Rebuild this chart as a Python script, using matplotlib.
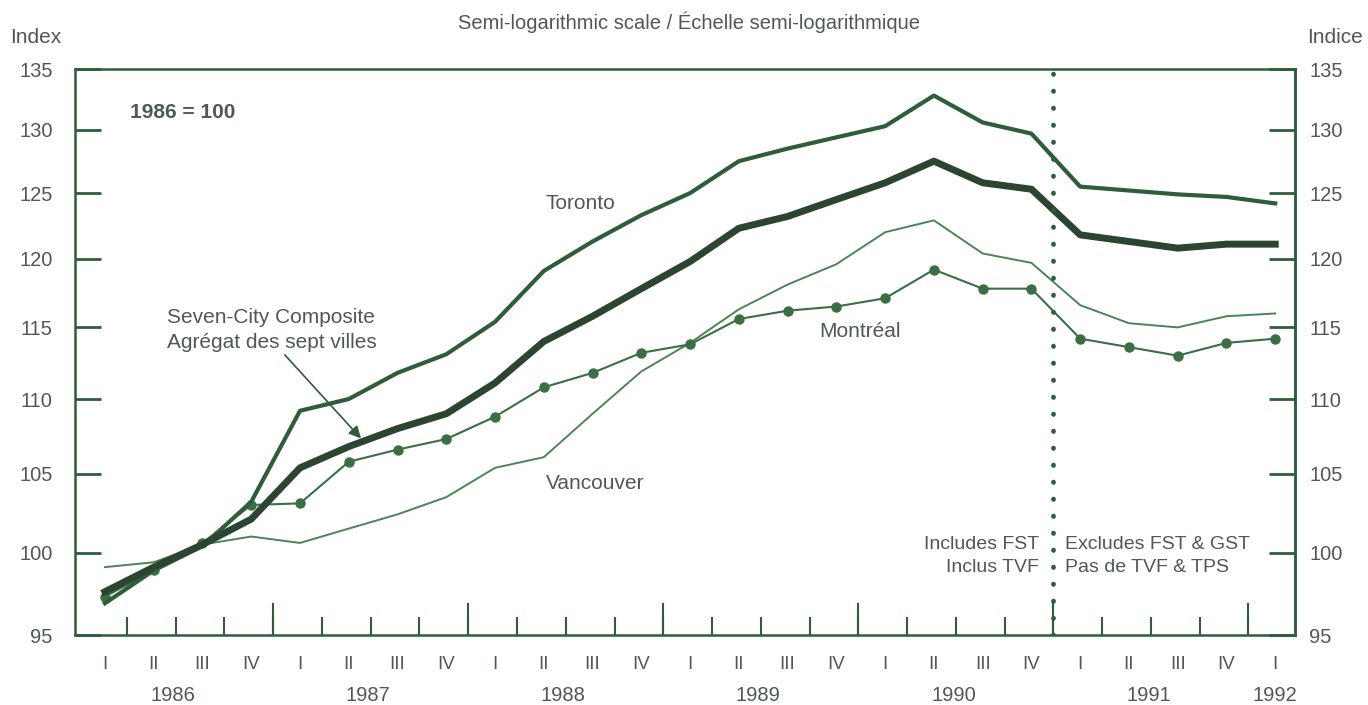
import numpy as np
import matplotlib
matplotlib.use("Agg")
import matplotlib.pyplot as plt
from matplotlib.ticker import NullLocator, FixedLocator, FixedFormatter
import matplotlib.transforms as mtransforms

plt.rcParams['font.family'] = ['Liberation Sans', 'DejaVu Sans']

# quarterly data, 1986 Q1 .. 1992 Q1 (1986 = 100)
quarters = ['I', 'II', 'III', 'IV'] * 6 + ['I']
years = ['1986', '1987', '1988', '1989', '1990', '1991', '1992']

toronto = [96.9, 98.9, 100.4, 103.2, 109.2, 110.0, 111.8, 113.1, 115.4, 119.1,
           121.3, 123.3, 125.0, 127.5, 128.5, 129.4, 130.3, 132.8, 130.6, 129.7,
           125.5, 125.2, 124.9, 124.7, 124.2]
composite = [97.6, 99.1, 100.5, 102.1, 105.4, 106.8, 108.0, 109.0, 111.1, 114.0,
             115.8, 117.8, 119.8, 122.3, 123.2, 124.5, 125.8, 127.5, 125.8, 125.3,
             121.8, 121.3, 120.8, 121.1, 121.1]
vancouver = [99.1, 99.4, 100.5, 101.0, 100.6, 101.5, 102.4, 103.5, 105.4, 106.1,
             109.0, 111.9, 113.9, 116.3, 118.1, 119.6, 122.0, 122.9, 120.4, 119.7,
             116.6, 115.3, 115.0, 115.8, 116.0]
montreal = [97.3, 98.9, 100.6, 103.0, 103.1, 105.8, 106.6, 107.3, 108.8, 110.8,
            111.8, 113.2, 113.8, 115.6, 116.2, 116.5, 117.1, 119.2, 117.8, 117.8,
            114.2, 113.6, 113.0, 113.9, 114.2]
yt = [95, 100, 105, 110, 115, 120, 125, 130, 135]

x = np.arange(len(quarters))
green = '#2f5c3a'
txt = '#4d5a4f'

fig = plt.figure(figsize=(13.68, 7.05), dpi=100)
ax = fig.add_axes([0.0548, 0.099, 0.892, 0.803])

ax.plot(x, vancouver, color='#4b8556', lw=1.4)
ax.plot(x, montreal, color='#3b6e45', lw=1.5, marker='o', ms=6.5)
ax.plot(x, toronto, color=green, lw=3.0)
ax.plot(x, composite, color='#2c4530', lw=5.0)

ax.set_yscale('log')
ax.set_ylim(95, 135)
ax.set_xlim(-0.615, 24.41)
ax.yaxis.set_major_locator(FixedLocator(yt))
ax.yaxis.set_major_formatter(FixedFormatter([str(v) for v in yt]))
ax.yaxis.set_minor_locator(NullLocator())
ax.tick_params(axis='y', direction='in', length=19, width=2, color=green,
               labelsize=14.5, labelcolor=txt, pad=16, right=False)

# right-hand scale
sec = ax.secondary_yaxis('right')
sec.set_yscale('log')
sec.yaxis.set_major_locator(FixedLocator(yt))
sec.yaxis.set_major_formatter(FixedFormatter([str(v) for v in yt]))
sec.yaxis.set_minor_locator(NullLocator())
sec.tick_params(axis='y', direction='in', length=19, width=2, color=green,
                labelsize=14.5, labelcolor=txt, pad=10)
sec.spines['right'].set_color(green)
sec.spines['right'].set_linewidth(1.8)

# quarter labels, small ticks between quarters
ax.set_xticks(x)
ax.set_xticklabels(quarters)
ax.set_xticks(x[:-1] + 0.45, minor=True)
ax.tick_params(axis='x', which='major', length=0, pad=15, labelsize=13.5, labelcolor=txt)
ax.tick_params(axis='x', which='minor', direction='in', length=13, width=1.5, color=green)

# longer ticks at year boundaries
trans = mtransforms.blended_transform_factory(ax.transData, ax.transAxes)
ax.vlines(x[3:-1:4] + 0.45, 0, 0.057, transform=trans, color=green, lw=1.5)
for k, yr in enumerate(years):
    xp = 24 if yr == '1992' else 4 * k + 1.4
    ax.text(xp, -0.106, yr, transform=trans, ha='center', va='center',
            fontsize=14.5, color=txt)

for s in ax.spines.values():
    s.set_color(green)
    s.set_linewidth(1.8)

# tax regime divider
ax.axvline(19.45, color=green, lw=3.4, ls=(0, (0.1, 3.5)), dash_capstyle='round')

ax.text(0.51, 131.4, '1986 = 100', fontsize=15, fontweight='bold', color=txt, va='center')
ax.text(9.74, 124.2, 'Toronto', fontsize=15, color=txt, ha='center', va='center')
ax.text(15.49, 114.7, 'Montréal', fontsize=15, color=txt, ha='center', va='center')
ax.text(10.05, 104.4, 'Vancouver', fontsize=15, color=txt, ha='center', va='center')
ax.text(1.27, 115.7, 'Seven-City Composite', fontsize=15, color=txt, va='center')
ax.text(1.27, 113.9, 'Agrégat des sept villes', fontsize=15, color=txt, va='center')
ax.annotate('', xy=(5.29, 107.2), xytext=(3.65, 113.2),
            arrowprops=dict(arrowstyle='-|>', color=green, lw=1.2, mutation_scale=18))
ax.text(19.15, 100.5, 'Includes FST', fontsize=14, color=txt, ha='right', va='center')
ax.text(19.15, 99.1, 'Inclus TVF', fontsize=14, color=txt, ha='right', va='center')
ax.text(19.68, 100.5, 'Excludes FST & GST', fontsize=14, color=txt, ha='left', va='center')
ax.text(19.68, 99.1, 'Pas de TVF & TPS', fontsize=14, color=txt, ha='left', va='center')

fig.text(0.504, 0.969, 'Semi-logarithmic scale / Échelle semi-logarithmique',
         ha='center', va='center', fontsize=14.5, color=txt)
fig.text(0.0073, 0.9475, 'Index', ha='left', va='center', fontsize=15, color=txt)
fig.text(0.996, 0.9475, 'Indice', ha='right', va='center', fontsize=15, color=txt)

fig.savefig('out.png', dpi=100)
